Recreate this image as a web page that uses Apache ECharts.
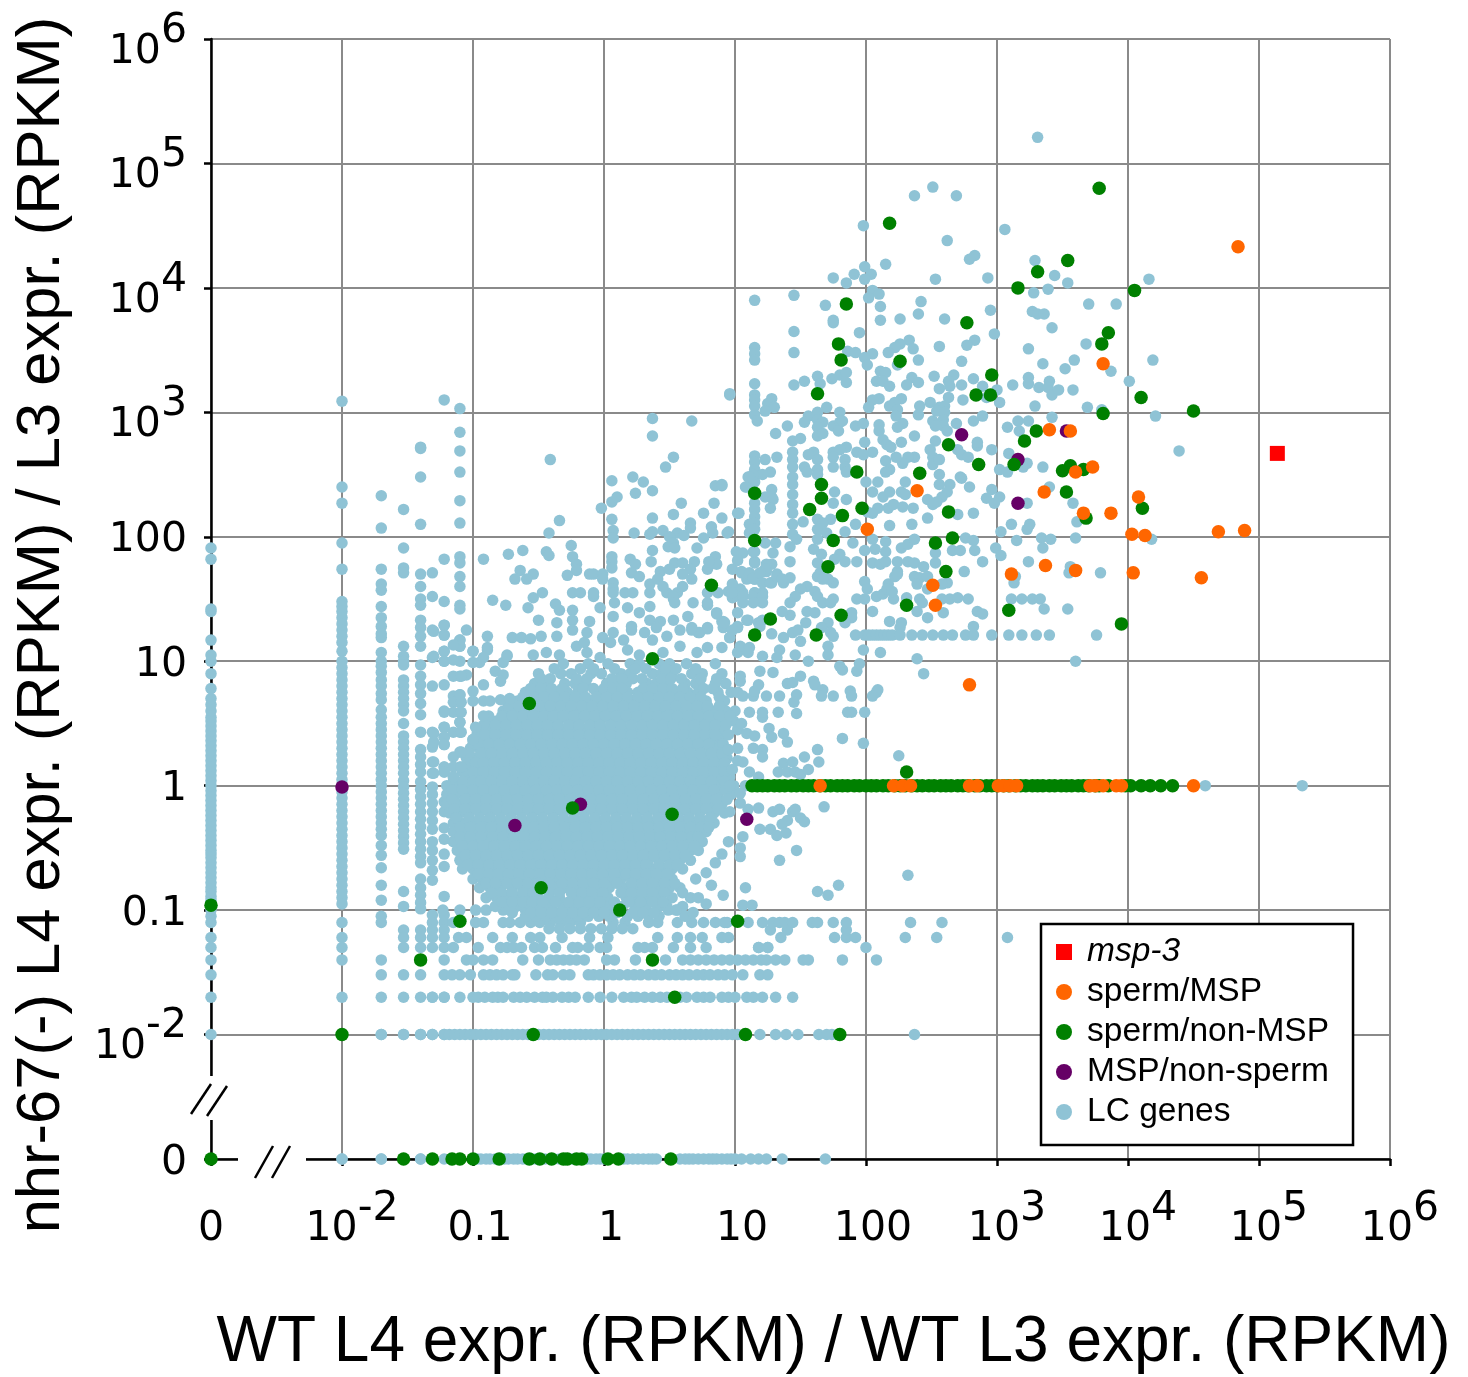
<!DOCTYPE html>
<html><head><meta charset="utf-8">
<style>html,body{margin:0;padding:0;background:#fff}#c{width:1468px;height:1377px}</style>
<script src="https://cdn.jsdelivr.net/npm/echarts@6/dist/echarts.min.js"></script>
</head><body><div id="c"></div>
<script>
// All values are log10(ratio). A log10 of -3 stands for the broken "0" position on each axis.
const xTitle = 'WT L4 expr. (RPKM) / WT L3 expr. (RPKM)';
const yTitle = 'nhr-67(-) L4 expr. (RPKM) / L3 expr. (RPKM)';
const tickExponents = [-3,-2,-1,0,1,2,3,4,5,6];

const msp3 = [[5.14,2.67]];

const spermMsp = [[4.84,4.33],[3.81,3.39],[3.40,2.86],[3.56,2.85],[3.73,2.56],[3.60,2.52],[3.36,2.36],[2.39,2.37],[3.66,2.19],[3.87,2.19],[4.08,2.32],[4.03,2.02],[4.13,2.01],[4.69,2.04],[4.89,2.05],[2.01,2.06],[3.37,1.77],[3.11,1.70],[3.60,1.73],[4.04,1.71],[4.56,1.67],[2.51,1.61],[2.53,1.45],[2.79,.81]];
const spermMspRow1 = [1.65,2.21,2.28,2.34,2.79,2.85,3.01,3.05,3.10,3.15,3.71,3.75,3.81,3.91,3.95,4.50];

const msgNonSperm = [[-2,-.01],[-.68,-.32],[-.18,-.15],[1.09,-.27],[2.73,2.82],[3.16,2.62],[3.16,2.27],[3.53,2.85]];

const spermOther = [[3.78,4.80],[2.18,4.52],[3.54,4.22],[3.31,4.13],[3.16,4.0],[4.05,3.98],[1.85,3.87],[2.77,3.72],[3.85,3.64],[3.80,3.55],[1.79,3.55],[1.81,3.42],[2.26,3.41],[2.96,3.30],[1.63,3.15],[2.84,3.14],[2.95,3.14],[4.10,3.12],[4.50,3.01],[3.81,2.99],[3.30,2.85],[3.21,2.77],[2.63,2.74],[3.13,2.58],[3.56,2.57],[3.50,2.53],[3.66,2.54],[1.93,2.52],[2.86,2.58],[2.41,2.51],[1.66,2.42],[1.15,2.35],[1.66,2.31],[3.53,2.36],[1.97,2.23],[2.63,2.20],[1.57,2.22],[1.82,2.17],[4.11,2.23],[3.68,2.15],[1.15,1.97],[1.75,1.97],[2.66,1.99],[2.53,1.95],[1.71,1.76],[2.61,1.72],[.82,1.61],[1.81,1.37],[2.31,1.45],[3.09,1.41],[1.27,1.34],[3.95,1.30],[1.15,1.21],[1.62,1.21],[.37,1.02],[-.57,.66],[-.24,-.18],[.52,-.23],[-.48,-.82],[.12,-1.0],[-1.1,-1.09],[1.02,-1.09],[-1.40,-1.40],[.37,-1.40],[.54,-1.70],[-2,-2],[-.54,-2],[1.08,-2],[1.80,-2],[2.31,.11],[-3,-.96],[-3,-3]];
const spermOtherRow0 = [-1.53,-1.31,-1.16,-1.10,-1,-.80,-.57,-.49,-.40,-.31,-.28,-.21,-.17,.03,.11,.51];
const spermOtherRow1 = [1.13,1.17,1.21,1.25,1.3,1.34,1.38,1.43,1.47,1.52,1.56,1.6,1.65,1.69,1.73,1.78,1.82,1.86,1.91,1.95,2.0,2.04,2.08,2.13,2.17,2.22,2.26,2.3,2.35,2.39,2.43,2.48,2.52,2.57,2.61,2.65,2.7,2.74,2.78,2.83,2.87,2.92,2.96,3.0,3.05,3.09,3.14,3.18,3.22,3.27,3.31,3.35,3.4,3.44,3.49,3.53,3.57,3.62,3.66,3.7,3.75,3.78,3.85,3.98,4.02,4.1,4.17,4.25,4.34];

// Columns of low-count genes: x fixed, y values listed.
const lcColumns = [
[-3,[-3,-2,-1.7,-1.52,-1.4,-1.3,-1.22,-1.1,-1.05,-1,-.96,-.92,-.89,-.85,-.82,-.78,-.74,-.7,-.66,-.62,-.58,-.55,-.52,-.48,-.44,-.4,-.36,-.32,-.28,-.24,-.2,-.16,-.12,-.08,-.04,0,.04,.08,.12,.16,.2,.24,.28,.32,.36,.4,.44,.48,.52,.55,.6,.65,.7,.78,.9,1.0,1.05,1.17,1.4,1.42,1.82,1.91]],
[-2,[3.09,2.40,2.27,1.95,1.74,1.48,1.44,1.4,1.35,1.3,1.25,1.2,1.15,1.08,1.0,.95,.9,.85,.8,.75,.7,.65,.6,.55,.5,.45,.4,.35,.3,.25,.2,.15,.1,.05,0,-.05,-.1,-.15,-.2,-.25,-.3,-.35,-.4,-.45,-.5,-.55,-.6,-.65,-.7,-.75,-.8,-.85,-.9,-.95,-1.1,-1.22,-1.3,-1.4,-1.7,-3]],
[-1.7,[2.33,2.07,1.74,1.62,1.57,1.44,1.35,1.28,1.22,1.19,1.07,1.0,.96,.91,.85,.8,.74,.69,.61,.55,.5,.45,.4,.35,.3,.25,.2,.15,.1,.05,0,-.05,-.1,-.15,-.2,-.25,-.3,-.35,-.4,-.48,-.56,-.66,-.8,-.92,-1.05,-1.1,-1.4,-1.52,-1.7,-2,-3]],
[-1.53,[2.22,1.91,1.75,1.71,1.12,1.04,1.0,.97,.85,.8,.75,.7,.65,.6,.5,.4,.35,.3,.25,.2,.15,.1,.04,-.01,-.06,-.11,-.16,-.21,-.26,-.31,-.36,-.41,-.46,-.51,-.85,-.97,-1.16,-1.22,-1.3,-1.52,-1.7,-2]],
[-1.4,[2.72,2.71,2.48,2.10,1.70,1.6,1.5,1.45,1.33,1.27,1.2,1.12,.97,.88,.81,.74,.66,.57,.43,.29,.23,.17,.11,.03,-.03,-.09,-.15,-.21,-.27,-.33,-.39,-.45,-.51,-.57,-.62,-.75,-.82,-.88,-.94,-.99,-1.16,-1.22,-1.3,-1.52,-1.7,-2,-3]],
[-1.31,[1.71,1.52,1.25,1.03,.8,.43,.31,.19,.1,-.01,-.07,-.14,-.21,-.28,-.35,-.45,-.52,-.6,-.68,-.76,-1.04,-1.1,-1.16,-1.22,-1.3,-1.7,-2]],
[-1.22,[3.10,1.82,1.48,1.29,1.21,1.08,1.0,.81,.6,.47,.39,.33,.15,.11,-.13,-.21,-.34,-.43,-.55,-.65,-.89,-1.04,-1.1,-1.16,-1.22,-1.3,-1.7,-2]],
[-1.1,[3.03,2.84,2.69,2.52,2.29,2.11,1.84,1.79,1.68,1.6,1.45,1.42,1.17,1.12,1.0,.88,.73,.67,.59,.51,.43,.27,.15]],
[1.15,[3.90,3.52,3.47,3.42,3.23,3.14,3.10,3.05,2.98,2.65,2.60,2.54,2.48,2.44,2.27,2.22,2.16,2.11,2.06,1.88,1.80,1.66,1.55]],
[.06,[2.45,2.28,2.14,1.84,1.80,1.75]],
[1.44,[2.68,2.62,2.56,2.48,2.42,2.34,2.26,2.19,2.10,2.02]],
[1.63,[3.29,2.62,2.54,2.50,2.14,2.06,1.98,1.79,1.68]]
];

// Rows of low-count genes: y fixed, x values listed.
const lcRows = [
[-3,[-2,-1.70,-1.40,-1.22,-.97,-.94,-.9,-.87,-.83,-.8,-.76,-.73,-.69,-.66,-.62,-.59,-.55,-.52,-.48,-.45,-.41,-.38,-.34,-.31,-.27,-.24,-.2,-.17,-.13,-.1,-.06,-.03,0,.15,.18,.22,.26,.3,.34,.37,.4,.58,.62,.65,.68,.72,.76,.8,.83,.86,.9,.94,.97,1.0,1.05,1.12,1.18,1.24,1.36,1.69]],
[-2,[-1.70,-1.53,-1.40,-1.31,-1.22,-1.18,-1.14,-1.1,-1.06,-1.02,-.98,-.94,-.9,-.86,-.82,-.78,-.74,-.70,-.66,-.62,-.58,-.5,-.46,-.42,-.38,-.34,-.30,-.26,-.22,-.18,-.14,-.1,-.06,-.02,.02,.06,.10,.14,.18,.22,.26,.3,.34,.38,.42,.46,.5,.54,.58,.62,.66,.7,.74,.78,.82,.86,.9,.94,.98,1.02,1.19,1.31,1.39,1.48,1.64,1.70,1.74,2.37]],
[-1.7,[-1.31,-1.22,-1.10,-1,-.96,-.91,-.85,-.81,-.77,-.69,-.64,-.59,-.53,-.47,-.44,-.39,-.32,-.27,-.22,-.12,-.03,.06,.15,.21,.25,.31,.37,.43,.48,.58,.63,.71,.76,.81,.90,.95,1.0,1.09,1.14,1.21,1.31,1.44]],
[-1.52,[-1.22,-1.16,-1.10,-1.02,-.92,-.87,-.82,-.77,-.70,-.68,-.52,-.43,-.39,-.31,-.26,-.12,-.08,-.03,.02,.07,.12,.18,.23,.28,.34,.39,.44,.50,.55,.60,.65,.71,.76,.81,.87,.92,.98,1.06,1.19,1.25]],
[-1.4,[-1.22,-1.05,-1,-.92,-.85,-.62,-.50,-.41,-.36,-.31,-.26,-.21,-.15,.02,.08,.24,.47,.60,.66,.72,.78,.84,.90,.96,1.02,1.08,1.14,1.20,1.24,1.31,1.38,1.52,1.56,1.82,2.08]],
[-1.3,[-1.15,-.96,-.79,-.74,-.69,-.63,-.53,-.47,-.37,-.24,-.20,-.12,-.03,.02,.26,.31,.37,.53,.66,.78,1.18,1.25,2.0]],
[-1.22,[-1.11,-1.05,-.85,-.70,-.56,-.49,-.32,-.11,.03,.41,.56,.66,.75,.90,.95,1.35,1.76,1.85,1.92,2.30,2.54,3.08]],
[-1.16,[1.27,1.40,1.85]],
[-1.1,[-1.15,-.98,-.92,-.77,-.72,-.64,-.56,-.49,-.41,-.33,-.26,-.18,.07,.16,.34,.41,.56,.67,.76,.85,.94,.92,1.10,1.21,1.29,1.34,1.38,1.44,1.59,1.63,1.75,1.85,2.34,2.58]],
[-1.0,[-1.23,-1.1,-.98,-.9,-.77,-.6,-.53,-.46,-.39,-.31,-.24,-.16,-.09,-.01,.05,.11,.27,.32,.49,.56]],
[0,[1.08,4.59,5.33]],
[1.21,[1.92,1.99,2.02,2.05,2.08,2.11,2.14,2.17,2.2,2.26,2.35,2.43,2.51,2.59,2.66,2.76,2.82,2.96,3.09,3.19,3.30,3.40,3.76]],
// Dense central cloud
[.98,[-.31,-.12,.03,.2,.27,.42,.5,.63,.85]],
[.90,[-.5,-.33,-.25,-.1,-.02,.13,.2,.37,.44,.52,.67,.75,.9]],
[.82,[-.53,-.45,-.3,-.22,-.14,.02,.1,.17,.33,.4,.47,.62,.7,.85,.93]],
[.75,[-.6,-.52,-.44,-.36,-.28,-.2,-.05,.03,.11,.18,.26,.33,.41,.49,.56,.64,.72,.87,.97]],
[.68,[-.66,-.58,-.5,-.42,-.34,-.26,-.18,-.1,-.02,.06,.14,.22,.3,.38,.46,.54,.62,.7,.78,.92]],
[.60,[-.77,-.69,-.61,-.53,-.45,-.37,-.29,-.21,-.13,-.05,.03,.11,.19,.27,.35,.43,.51,.59,.67,.75,.83,.93,1.0]],
[.52,[-.9,-.82,-.74,-.66,-.58,-.5,-.43,-.35,-.27,-.19,-.11,-.03,.05,.13,.21,.29,.37,.44,.52,.6,.68,.76,.84,.92,.99]],
[.45,[-.95,-.87,-.79,-.71,-.63,-.55,-.47,-.39,-.31,-.23,-.15,-.07,.01,.09,.17,.25,.33,.41,.49,.57,.65,.73,.81,.89,1.02]],
[.37,[-1.0,-.92,-.84,-.76,-.68,-.6,-.52,-.44,-.36,-.28,-.2,-.12,-.04,.04,.12,.2,.28,.36,.44,.52,.6,.68,.76,.84,.9]],
[.30,[-1.02,-.95,-.87,-.79,-.71,-.63,-.55,-.47,-.39,-.31,-.23,-.15,-.07,.01,.09,.17,.25,.33,.41,.49,.57,.65,.73,.81,.87]],
[.22,[-1.05,-.98,-.9,-.82,-.74,-.66,-.58,-.5,-.42,-.34,-.26,-.18,-.1,-.02,.06,.14,.22,.3,.38,.46,.54,.62,.7,.78,.86,.94]],
[.15,[-1.05,-.96,-.88,-.8,-.72,-.64,-.56,-.48,-.4,-.32,-.24,-.16,-.08,0,.08,.16,.24,.32,.4,.48,.56,.64,.72,.8,.88]],
[.07,[-1.15,-1.05,-.98,-.9,-.82,-.74,-.66,-.58,-.5,-.42,-.34,-.26,-.18,-.1,-.02,.06,.14,.22,.3,.38,.46,.54,.62,.7,.78,.86,.96]],
[0,[-1.2,-1.12,-1.04,-.96,-.88,-.8,-.72,-.64,-.56,-.48,-.4,-.32,-.24,-.16,-.08,0,.08,.16,.24,.32,.4,.48,.56,.64,.72,.8,.88,.99]],
[-.07,[-1.2,-1.13,-1.05,-.97,-.89,-.81,-.73,-.65,-.57,-.49,-.41,-.33,-.25,-.17,-.09,-.01,.07,.15,.23,.31,.39,.47,.55,.63,.71,.79,.87,.97]],
[-.15,[-1.2,-1.1,-1.02,-.94,-.86,-.78,-.7,-.62,-.54,-.46,-.38,-.3,-.22,-.14,-.06,.02,.1,.18,.26,.34,.42,.5,.58,.66,.74,.82,.9]],
[-.22,[-1.18,-1.1,-1.03,-.95,-.87,-.79,-.71,-.63,-.55,-.47,-.39,-.31,-.23,-.15,-.07,.01,.09,.17,.25,.33,.41,.49,.57,.65,.73,.84]],
[-.30,[-1.15,-1.07,-.99,-.91,-.83,-.75,-.67,-.59,-.51,-.43,-.35,-.27,-.19,-.11,-.03,.05,.13,.21,.29,.37,.45,.53,.61,.69,.77,.84]],
[-.37,[-1.15,-1.06,-.98,-.9,-.82,-.74,-.66,-.58,-.5,-.42,-.34,-.26,-.18,-.1,-.02,.06,.14,.22,.3,.38,.46,.54,.62,.7,.78]],
[-.45,[-1.15,-1.05,-.97,-.89,-.81,-.73,-.65,-.57,-.49,-.41,-.33,-.25,-.17,-.09,-.01,.07,.15,.23,.31,.39,.47,.55,.63,.75]],
[-.52,[-1.12,-1.04,-.96,-.88,-.8,-.72,-.64,-.56,-.48,-.4,-.32,-.24,-.16,-.08,0,.08,.16,.24,.32,.4,.48,.56,.66,.72]],
[-.60,[-1.1,-1.02,-.94,-.86,-.78,-.7,-.62,-.54,-.46,-.38,-.3,-.22,-.14,-.06,.02,.1,.18,.26,.34,.42,.5,.58,.66]],
[-.67,[-1.08,-1,-.92,-.84,-.76,-.68,-.6,-.52,-.44,-.36,-.28,-.2,-.12,-.04,.04,.12,.2,.28,.38,.46,.52,.6]],
[-.75,[-1.0,-.93,-.85,-.77,-.69,-.61,-.53,-.45,-.37,-.29,-.21,-.13,-.05,.03,.13,.21,.27,.36,.44,.52]],
[-.82,[-.95,-.87,-.79,-.7,-.62,-.54,-.46,-.38,-.28,-.2,-.12,-.04,.04,.17,.25,.33,.41,.5,.58]],
[-.90,[-.9,-.82,-.74,-.66,-.58,-.5,-.42,-.34,-.22,-.14,-.06,.03,.17,.25,.33,.42,.52,.66]],
[-.97,[-.83,-.75,-.67,-.59,-.51,-.43,-.31,-.23,-.15,-.07,.01,.14,.24,.32,.42,.48,.6]],
[-1.05,[-.6,-.52,-.44,-.36,-.28,-.2,-.12,-.04,.04,.18,.26,.34,.42]],
[-1.15,[-.42,-.34,-.26,-.18,-.1,-.02,.06,.14,.22]],
// Second layer of the dense cloud, between the rows above
[.94,[-.38,-.18,-.08,.08,.24,.32,.47,.55,.7]],
[.86,[-.48,-.41,-.21,-.13,.06,.14,.22,.29,.44,.51,.59,.74,.86]],
[.78,[-.56,-.48,-.4,-.32,-.16,-.08,0,.07,.14,.3,.37,.45,.52,.6,.76,.83]],
[.71,[-.62,-.54,-.46,-.38,-.3,-.22,-.14,-.06,.02,.1,.18,.26,.34,.42,.5,.58,.66,.74,.88]],
[.64,[-.73,-.65,-.57,-.49,-.41,-.33,-.25,-.17,-.09,-.01,.07,.15,.23,.31,.39,.47,.55,.63,.71,.79,.88]],
[.56,[-.88,-.78,-.7,-.62,-.54,-.46,-.39,-.31,-.23,-.15,-.07,.01,.09,.17,.25,.33,.41,.48,.56,.64,.72,.8,.88,.96]],
[.485,[-.92,-.83,-.75,-.67,-.59,-.51,-.43,-.35,-.27,-.19,-.11,-.03,.05,.13,.21,.29,.37,.45,.53,.61,.69,.77,.85,.93]],
[.41,[-.97,-.91,-.83,-.75,-.67,-.59,-.51,-.43,-.35,-.27,-.19,-.11,-.03,.05,.13,.21,.29,.37,.45,.53,.61,.69,.77,.85,.95]],
[.335,[-1.0,-.96,-.88,-.8,-.72,-.64,-.56,-.48,-.4,-.32,-.24,-.16,-.08,0,.08,.16,.24,.32,.4,.48,.56,.64,.72,.8,.91]],
[.26,[-1.03,-.94,-.86,-.78,-.7,-.62,-.54,-.46,-.38,-.3,-.22,-.14,-.06,.02,.1,.18,.26,.34,.42,.5,.58,.66,.74,.82,.9]],
[.185,[-1.03,-.98,-.92,-.84,-.76,-.68,-.6,-.52,-.44,-.36,-.28,-.2,-.12,-.04,.04,.12,.2,.28,.36,.44,.52,.6,.68,.76,.84,.92]],
[.11,[-1.08,-1.0,-.92,-.84,-.76,-.68,-.6,-.52,-.44,-.36,-.28,-.2,-.12,-.04,.04,.12,.2,.28,.36,.44,.52,.6,.68,.76,.84,.92]],
[.035,[-1.15,-1.08,-1.0,-.94,-.86,-.78,-.7,-.62,-.54,-.46,-.38,-.3,-.22,-.14,-.06,.02,.1,.18,.26,.34,.42,.5,.58,.66,.74,.82,.92]],
[-.035,[-1.16,-1.08,-1.0,-.92,-.84,-.76,-.68,-.6,-.52,-.44,-.36,-.28,-.2,-.12,-.04,.04,.12,.2,.28,.36,.44,.52,.6,.68,.76,.84,.93]],
[-.11,[-1.16,-1.06,-.98,-.9,-.82,-.74,-.66,-.58,-.5,-.42,-.34,-.26,-.18,-.1,-.02,.06,.14,.22,.3,.38,.46,.54,.62,.7,.78,.86,.94]],
[-.185,[-1.14,-1.06,-.98,-.9,-.82,-.74,-.66,-.58,-.5,-.42,-.34,-.26,-.18,-.1,-.02,.06,.14,.22,.3,.38,.46,.54,.62,.7,.78,.87]],
[-.26,[-1.13,-1.03,-.95,-.87,-.79,-.71,-.63,-.55,-.47,-.39,-.31,-.23,-.15,-.07,.01,.09,.17,.25,.33,.41,.49,.57,.65,.73,.81]],
[-.335,[-1.1,-1.02,-.94,-.86,-.78,-.7,-.62,-.54,-.46,-.38,-.3,-.22,-.14,-.06,.02,.1,.18,.26,.34,.42,.5,.58,.66,.74,.8]],
[-.41,[-1.1,-1.02,-.94,-.85,-.77,-.69,-.61,-.53,-.45,-.37,-.29,-.21,-.13,-.05,.03,.11,.19,.27,.35,.43,.51,.59,.67,.72]],
[-.485,[-1.08,-1.0,-.92,-.84,-.76,-.68,-.6,-.52,-.44,-.36,-.28,-.2,-.12,-.04,.04,.12,.2,.28,.36,.44,.52,.6,.69]],
[-.56,[-1.06,-.98,-.9,-.82,-.74,-.66,-.58,-.5,-.42,-.34,-.26,-.18,-.1,-.02,.06,.14,.22,.3,.38,.46,.54,.62]],
[-.635,[-1.04,-.96,-.88,-.8,-.72,-.64,-.56,-.48,-.4,-.32,-.24,-.16,-.08,0,.08,.16,.24,.32,.42,.5,.56]],
[-.71,[-.96,-.88,-.81,-.73,-.65,-.57,-.49,-.41,-.33,-.25,-.17,-.09,-.01,.08,.17,.24,.32,.4,.48]],
[-.785,[-.9,-.83,-.74,-.66,-.58,-.5,-.42,-.32,-.24,-.16,-.08,0,.1,.21,.29,.37,.46,.54]],
[-.86,[-.86,-.78,-.7,-.62,-.54,-.42,-.34,-.25,-.17,-.09,-.01,.13,.21,.29,.37,.46,.6]],
[-.935,[-.78,-.7,-.62,-.55,-.47,-.37,-.27,-.19,-.11,-.03,.08,.19,.28,.37,.45]],
[-1.02,[-.7,-.56,-.48,-.4,-.32,-.24,-.16,-.08,0,.1,.22,.3,.38]]
];

// Individually read low-count genes (x, y).
const lcScatterA = [[3.31,5.21],[2.51,4.81],[2.37,4.74],[2.69,4.74],[1.98,4.50],[3.06,4.47],[2.62,4.38],[2.83,4.26],[2.79,4.23],[3.29,4.22],[2.15,4.19],[1.99,4.17],[1.91,4.11],[2.04,4.11],[1.75,4.08],[1.99,4.07],[2.53,4.07],[2.93,4.08],[3.44,4.10],[1.85,4.04],[3.54,4.04],[4.16,4.07],[3.39,3.99],[2.05,3.98],[2.10,3.95],[3.28,3.96],[1.45,3.94],[2.02,3.92],[1.69,3.86],[2.42,3.89],[2.11,3.85],[3.70,3.87],[3.91,3.87],[2.95,3.82],[3.27,3.81],[3.31,3.79],[3.36,3.79],[2.40,3.79],[2.26,3.75],[2.11,3.74],[1.75,3.74],[1.75,3.72],[2.60,3.75],[3.42,3.68],[1.45,3.65],[1.95,3.64],[2.98,3.63],[2.83,3.58],[2.77,3.54],[2.33,3.58],[2.36,3.51],[2.26,3.55],[2.22,3.52],[2.17,3.48],[2.56,3.53],[1.45,3.48],[3.24,3.51],[3.68,3.55],[1.86,3.49],[1.92,3.48],[2.05,3.47],[1.99,3.44],[2.01,3.38],[2.40,3.42],[2.73,3.41],[3.35,3.39],[3.59,3.42],[3.52,3.35],[4.19,3.42],[3.87,3.33],[2.24,3.38],[1.65,3.23],[2.11,3.33],[2.15,3.32],[2.08,3.25],[2.13,3.25],[2.18,3.21],[1.74,3.27],[1.80,3.30],[1.85,3.32],[1.85,3.24],[1.53,3.25],[1.45,3.22],[.96,3.14],[2.35,3.28],[2.31,3.22],[2.40,3.24],[2.52,3.29],[2.67,3.30],[2.63,3.25],[2.64,3.21],[2.82,3.27],[2.73,3.22],[2.89,3.21],[2.56,3.19],[3.12,3.22],[3.24,3.28],[3.24,3.23],[3.32,3.20],[3.40,3.25],[3.39,3.20],[3.42,3.14],[3.47,3.18],[3.58,3.18],[4.01,3.25],[3.0,3.18],[2.92,3.12],[3.02,3.08],[2.74,3.10],[2.63,3.12],[2.49,3.08],[3.29,3.05],[3.69,3.04],[4.21,2.97],[3.80,3.02],[1.17,2.93],[1.28,3.11],[1.25,3.07],[1.30,3.04],[1.23,3.01],[2.27,3.11],[2.22,3.08],[2.18,3.05],[2.24,3.02],[2.23,2.97],[2.10,3.11],[2.05,3.10],[2.02,3.04],[2.41,3.05],[2.40,2.98],[2.56,3.04],[2.60,3.05],[2.54,3.01],[2.60,3.0],[2.59,2.94],[2.51,2.93],[2.59,2.89],[2.53,2.89],[2.62,2.85],[2.69,2.91],[2.82,2.93],[2.89,2.97],[3.16,2.93],[3.24,2.93],[3.42,2.96],[3.08,2.88],[3.17,2.85],[1.63,3.0],[1.56,2.97],[1.53,2.92],[1.70,3.04],[1.80,3.0],[1.63,2.94],[1.67,2.92],[1.63,2.88],[1.75,2.89],[1.80,2.92],[1.82,2.93],[1.79,2.85],[1.63,2.81],[1.67,2.83],[1.40,2.89],[1.31,2.83],[1.44,2.77],[1.50,2.79],[1.92,2.89],[1.98,2.91],[2.10,2.90],[2.10,2.85],[2.13,2.78],[2.16,2.74],[2.19,2.72],[2.28,2.91],[2.24,2.88],[2.37,2.81],[1.99,2.76],[2.05,2.68],[1.93,2.68],[1.98,2.66],[2.27,2.76],[1.75,2.68],[1.85,2.72],[1.80,2.70],[2.53,2.77],[2.49,2.70],[2.51,2.64],[2.51,2.58],[2.56,2.62],[2.70,2.70],[2.73,2.66],[2.78,2.64],[2.85,2.73],[2.85,2.76],[2.96,2.70],[3.09,2.67],[3.23,2.59],[3.20,2.56],[3.35,2.56],[3.02,2.54],[3.08,2.52],[4.39,2.69],[1.23,2.62],[1.32,2.64],[1.53,2.56],[1.55,2.52],[1.60,2.68],[1.56,2.66],[1.75,2.64],[1.75,2.56],[1.84,2.62],[1.84,2.56],[1.85,2.52],[2.15,2.61],[2.37,2.64],[2.32,2.64],[2.28,2.59],[2.23,2.64],[2.18,2.54],[2.15,2.52],[2.56,2.50],[2.72,2.48],[1.27,2.52],[1.21,2.50],[1.14,2.50],[1.10,2.48]];

const lcScatterB = [[.90,2.42],[1.09,2.40],[1.28,2.38],[1.28,2.32],[1.23,2.32],[1.29,2.30],[1.27,2.23],[1.76,2.36],[1.85,2.30],[1.75,2.27],[1.73,2.14],[1.67,2.11],[1.65,2.06],[1.70,2.03],[2.0,2.44],[2.09,2.44],[2.05,2.36],[2.13,2.32],[2.18,2.36],[2.27,2.36],[2.30,2.34],[2.30,2.44],[2.01,2.20],[2.09,2.23],[2.17,2.23],[2.21,2.26],[2.28,2.24],[2.36,2.23],[2.05,2.19],[1.92,2.10],[2.18,2.09],[2.35,2.10],[2.47,2.15],[2.56,2.42],[2.64,2.42],[2.62,2.36],[2.58,2.32],[2.54,2.28],[2.47,2.30],[2.51,2.26],[2.73,2.47],[2.79,2.40],[2.96,2.38],[2.92,2.31],[3.02,2.32],[2.98,2.27],[2.82,2.19],[2.70,2.18],[3.11,2.10],[3.03,2.04],[3.25,2.10],[3.23,2.06],[3.40,2.40],[3.23,2.27],[3.58,2.27],[3.61,2.12],[4.18,1.98],[3.15,1.97],[3.34,1.99],[3.41,1.98],[3.35,1.91],[3.60,1.99],[2.99,1.91],[3.03,1.85],[2.76,1.99],[2.82,1.97],[2.66,1.89],[2.72,1.89],[2.83,1.89],[2.53,1.87],[2.53,1.79],[2.89,1.80],[2.75,1.72],[3.24,1.80],[3.56,1.76],[3.55,1.71],[3.79,1.71],[3.14,1.68],[3.13,1.63],[3.11,1.50],[3.19,1.50],[3.27,1.50],[3.33,1.50],[3.36,1.42],[3.54,1.42],[3.60,1.0],[1.98,1.09],[2.11,1.07],[2.39,1.02],[2.44,.90],[1.99,1.64],[2.01,1.58],[1.93,1.50],[1.99,1.50],[2.05,1.40],[2.08,1.52],[2.13,1.54],[2.17,1.62],[2.21,1.50],[2.16,1.58],[2.20,1.56],[2.31,1.51],[2.41,1.50],[2.39,1.40],[2.47,1.35],[2.43,1.47],[2.58,1.50],[2.64,1.50],[2.70,1.51],[2.78,1.50],[2.59,1.39],[2.47,1.58],[2.62,1.63],[2.58,1.62],[2.85,1.40],[2.89,1.38],[2.82,1.28],[2.18,1.32],[2.27,1.31],[2.26,1.27],[2.37,1.68],[2.41,1.67],[2.47,1.68],[2.39,1.62],[2.24,1.72],[2.22,1.68],[2.24,1.70],[2.05,1.79],[2.11,1.78],[2.15,1.80],[2.24,1.80],[2.32,1.80],[2.37,1.79],[2.44,1.76],[2.07,1.90],[2.15,1.96],[2.15,1.88],[2.27,1.91],[2.32,1.94],[2.37,1.98],[1.99,1.89],[2.05,1.98],[1.84,2.04],[1.90,1.95],[1.84,1.80],[1.93,1.80],[1.80,1.86],[1.76,1.82],[1.70,1.75],[1.66,1.86],[1.65,1.71],[1.75,1.63],[1.71,1.66],[1.67,1.66],[1.55,1.60],[1.50,1.58],[1.46,1.52],[1.42,1.47],[1.61,1.56],[1.63,1.52],[1.67,1.47],[1.73,1.47],[1.75,1.50],[1.55,1.40],[1.61,1.39],[1.42,1.37],[1.36,1.40],[1.89,1.39],[1.89,1.35],[1.84,1.31],[1.71,1.31],[1.66,1.27],[1.73,1.23],[1.75,1.20],[1.37,1.19],[1.44,1.23],[1.48,1.25],[1.54,1.31],[1.50,1.16],[1.28,1.22],[1.71,1.12],[1.71,1.05],[1.34,1.09],[1.32,1.03],[1.46,1.05],[1.56,1.0],[1.21,1.04]];

const lcScatterC = [[1.19,.92],[1.29,.91],[1.04,.88],[1.04,.84],[1.40,.82],[1.44,.83],[1.50,.88],[1.60,.84],[1.61,.81],[1.67,.77],[1.66,.72],[1.75,.72],[1.88,.76],[1.89,.72],[2.09,.77],[2.08,.75],[2.05,.72],[1.80,.96],[1.82,.93],[1.93,.92],[1.95,.98],[1.99,.59],[1.89,.59],[1.86,.59],[1.02,.75],[1.06,.72],[1.14,.72],[1.15,.76],[1.24,.72],[1.18,.81],[1.34,.72],[1.47,.73],[1.45,.67],[1.47,.58],[1.33,.59],[1.21,.55],[1.21,.59],[1.11,.59],[1.05,.50],[1.09,.42],[1.15,.40],[1.26,.46],[1.28,.39],[1.37,.42],[1.40,.35],[1.14,.30],[1.21,.29],[1.21,.23],[1.02,.30],[.95,.29],[1.63,.29],[1.53,.23],[1.64,.19],[1.82,.38],[1.98,.34],[1.37,.18],[1.44,.19],[1.33,.11],[1.40,.11],[1.46,.11],[1.50,.09],[1.56,.13],[1.11,.11],[1.18,.07],[1.02,.20],[1.06,.19],[.98,.13],[2.25,.24],[1.68,-.17],[1.10,-.19],[1.18,-.18],[1.29,-.21],[1.34,-.19],[1.44,-.21],[1.46,-.19],[1.50,-.26],[1.53,-.29],[1.40,-.28],[1.36,-.31],[1.19,-.35],[1.27,-.35],[1.32,-.40],[1.39,-.38],[1.47,-.52],[1.34,-.60],[1.06,-.41],[1.04,-.50],[1.04,-.57],[.92,-.22],[.96,-.21],[1.04,-.14],[1.04,-.06],[2.32,-.72],[1.08,-.82],[1.79,-.80],[1.63,-.85],[1.71,-.88],[1.06,-.96],[1.13,-.96],[.91,-.88],[1.18,-1.30],[1.25,-1.30],[.96,.0],[.72,-.9],[.78,-.95],[.7,-.75],[.78,-.7],[.85,-.62],[.9,-.55],[.95,-.45],[.82,-.8],[.62,-1.05],[.68,-1.02],[.55,-1.0]];

const lcScatterD = [[-1.22,1.29],[-1.22,1.21],[-1.30,1.24],[-1.05,1.25],[-1.10,1.17],[-1.10,1.12],[-1.15,1.13],[-1.22,1.08],[-1.22,1.0],[-1.30,1.04],[-1.15,1.01],[-1,1.08],[-1,.99],[-.95,.99],[-.89,1.09],[-.77,.99],[-.74,1.05],[-.83,.92],[-.77,.89],[-.79,.84],[-.92,.81],[-1,.76],[-1,.68],[-.92,.68],[-.87,.68],[-.79,.69],[-.72,.70],[-.92,.56],[-.98,.47],[-1,.37],[-1.05,.89],[-1.15,.88],[-1.09,.88],[-1.15,.72],[-1.10,.73],[-1.15,.67],[-1.09,.67],[-1.15,.59],[-1.09,.59],[-1.22,.59],[-1.10,.51],[-1.22,.47],[-1.22,.39],[-1.15,.43],[-1.09,.43],[-1.30,.42],[-1.30,.35],[-1.22,.33],[-1.15,.23],[-1.09,.27],[-1.15,.15],[-1.22,.15],[-1.09,.15],[-1.22,.11],[-1.15,.07],[-1.30,.19],[-1.30,.10],[-.92,1.82],[-.73,1.86],[-.62,1.89],[-.44,1.88],[-.42,1.85],[-.41,2.62],[-.34,2.13],[-.42,2.03],[-.25,1.93],[-.24,1.84],[-.21,1.78],[-.21,1.73],[-.64,1.73],[-.54,1.70],[-.68,1.66],[-.59,1.66],[-.28,1.69],[-.11,1.70],[-.08,1.70],[-.01,1.70],[-.01,1.66],[-.02,2.23],[.10,2.32],[.07,2.05],[.07,1.99],[.22,2.48],[.30,2.44],[.37,2.37],[.24,2.35],[.37,2.95],[.37,2.81],[.67,2.93],[.53,2.64],[.47,2.56],[.96,3.15],[.85,2.41],[.90,2.41],[.59,2.27],[.84,2.27],[1.08,2.40],[.37,2.15],[.53,2.18],[.76,2.19],[.66,2.11],[.90,2.15],[1.03,2.19],[.23,2.03],[.35,2.02],[.37,2.04],[.45,2.05],[.56,2.03],[.50,2.0],[.61,2.01],[.66,2.07],[.82,2.08],[.83,2.03],[.94,2.03],[.76,1.99],[.53,1.95],[.49,1.92],[.54,1.91],[.71,1.91],[.37,1.89],[.36,1.80],[.43,1.72],[.20,1.82],[.24,1.78],[.21,1.71],[.27,1.68],[.54,1.79],[.60,1.79],[.50,1.74],[.69,1.80],[.66,1.74],[.60,1.70],[.79,1.74],[.85,1.84],[.86,1.78],[.80,1.80],[.98,1.74],[1.01,1.88],[1.06,1.87],[1.02,1.81],[1.05,1.72],[1.11,1.71],[1.11,2.48],[1.11,2.10],[1.11,2.03],[.07,1.63],[.07,1.58],[-.85,1.49],[-.75,1.45],[-.58,1.43],[-.54,1.51],[-.37,1.46],[-.34,1.41],[-.24,1.41],[-.08,1.52],[-.03,1.43],[.08,1.47],[.18,1.43],[.35,1.44],[.53,1.50],[.68,1.47],[.79,1.45],[.86,1.39],[1.0,1.52],[-.47,1.55],[-.24,1.55],[-.18,1.55],[-.08,1.55],[.07,1.55],[.16,1.55],[.22,1.55],[.35,1.55],[.48,1.55],[.56,1.55],[.79,1.55],[.87,1.55],[1.0,1.55],[1.06,1.55],[-.50,1.33],[-.36,1.31],[-.24,1.33],[-.11,1.32],[.07,1.36],[.21,1.28],[.27,1.39],[.35,1.33],[.43,1.32],[.53,1.33],[.64,1.36],[.91,1.32],[1.02,1.28],[1.10,1.33],[-.70,1.19],[-.63,1.19],[-.56,1.18],[-.48,1.20],[-.36,1.20],[-.24,1.25],[-.13,1.23],[-.01,1.19],[.07,1.23],[.15,1.17],[.21,1.25],[.31,1.23],[.40,1.27],[.48,1.20],[.58,1.25],[.67,1.25],[.73,1.23],[.79,1.27],[.91,1.27],[.96,1.19],[1.02,1.27],[-.89,1.20],[-.89,1.11],[-1,1.08],[-.92,1.03],[-.74,1.04],[-.54,1.05],[-.44,1.07],[-.34,1.05],[-.21,1.12],[-.15,1.15],[-.13,1.07],[-.03,1.03],[.05,1.15],[.18,1.09],[.27,1.05],[.37,1.17],[.45,1.07],[.58,1.12],[.71,1.07],[.79,1.11],[.90,1.11],[1.02,1.07]];

const lcScatterE = [[.67,1.66],[.60,1.60],[.35,1.62],[.41,1.66],[.45,1.60],[.53,1.52],[.54,1.47],[.79,1.47],[.86,1.38],[.90,1.32],[.79,1.26],[.72,1.23],[.67,1.27],[.95,1.56],[.98,1.51],[1.04,1.58],[1.09,1.66],[1.15,1.66],[1.21,1.55],[1.15,1.55],[1.28,1.63],[1.32,1.70],[1.37,1.63],[1.24,1.72],[1.15,1.79],[1.28,1.78],[1.29,1.87],[1.23,1.95],[1.31,1.95],[1.14,2.06],[1.47,1.98],[1.52,2.12],[1.42,1.92],[1.42,1.80],[1.42,1.67],[1.60,1.90],[.95,2.04],[1.02,2.19],[1.14,1.88],[1.24,1.78],[1.23,1.74],[1.05,1.71],[1.11,1.70],[1.14,1.67],[1.19,1.71],[1.21,1.63],[1.27,1.63],[1.32,1.68],[1.36,1.66],[.98,1.62],[.98,1.55],[1.06,1.52],[1.14,1.52],[1.21,1.52],[1.21,1.47],[1.14,1.47],[1.06,1.47],[1.02,1.39],[1.09,1.33],[1.18,1.31],[1.21,1.33],[.92,1.31],[.98,1.25],[.96,1.19],[1.04,1.12],[1.11,1.11],[1.10,1.07],[1.19,1.28]];

const pairsFromColumns = c => c.flatMap(([x, ys]) => ys.map(y => [x, y]));
const pairsFromRows = r => r.flatMap(([y, xs]) => xs.map(x => [x, y]));
const fromLog = p => p.map(([x, y]) => [Math.pow(10, x), Math.pow(10, y)]);

const lcAll = fromLog([...pairsFromColumns(lcColumns), ...pairsFromRows(lcRows), ...lcScatterA, ...lcScatterB, ...lcScatterC, ...lcScatterD, ...lcScatterE]);
const msgAll = fromLog(msgNonSperm);
const greenAll = fromLog([...spermOther, ...spermOtherRow0.map(x => [x, -3]), ...spermOtherRow1.map(x => [x, 0])]);
const orangeAll = fromLog([...spermMsp, ...spermMspRow1.map(x => [x, 0])]);
const redAll = fromLog(msp3);

const NUM = 'DejaVu Sans';
const SANS = 'Liberation Sans';
function xLabel(v) {
  const e = Math.round(Math.log10(v));
  if (e === -3) return '{p|0}';
  if (e === -2) return '{ex|10}{s|-2}';
  if (e === -1) return '{q|0.1}';
  if (e === 0) return '{q|1}';
  if (e === 1) return '{q|10}';
  if (e === 2) return '{q|100}';
  return '{ex|10}{s|' + e + '}';
}
function yLabel(v) {
  const e = Math.round(Math.log10(v));
  if (e === -3) return '{py|0}';
  if (e === -2) return '{ey|10}{t|-2}';
  if (e === -1) return '{py|0.1}';
  if (e === 0) return '{py|1}';
  if (e === 1) return '{py|10}';
  if (e === 2) return '{py|100}';
  return '{ey|10}{t|' + e + '}';
}
const richBase = {fontFamily: NUM, fontSize: 41, color: '#000'};
const lineSeg = (x1, y1, x2, y2) => ({type: 'line', shape: {x1, y1, x2, y2}, style: {stroke: '#000', lineWidth: 2.5}, z: 3});
const cover = (x, y, width, height) => ({type: 'rect', shape: {x, y, width, height}, style: {fill: '#fff'}, z: 3});
const dots = (name, data, color, size, symbol, z) => ({
  type: 'scatter', name, data, symbol: symbol || 'circle', symbolSize: size, clip: false, z,
  itemStyle: {color, opacity: 1}, emphasis: {disabled: true}, silent: true, animation: false
});
const axisCommon = {
  type: 'log', logBase: 10, min: 1e-3, max: 1e6, interval: 1, splitNumber: 9,
  axisLine: {show: true, onZero: false, lineStyle: {color: '#000', width: 2.5}},
  axisTick: {show: true, length: 7, lineStyle: {color: '#000', width: 2.5}},
  minorTick: {show: false}, minorSplitLine: {show: false},
  splitLine: {show: true, lineStyle: {color: '#8a8a8a', width: 2}}
};
const chart = echarts.init(document.getElementById('c'), null, {renderer: 'canvas'});
chart.setOption({
  animation: false,
  backgroundColor: '#fff',
  grid: {left: 211, top: 39, width: 1179, height: 1120, containLabel: false, outerBoundsMode: 'none'},
  xAxis: Object.assign({}, axisCommon, {
    name: xTitle, nameLocation: 'middle', nameGap: 152,
    nameTextStyle: {fontFamily: SANS, fontSize: 64, color: '#000', padding: [0, 0, 0, 66]},
    axisLabel: {
      margin: 70, verticalAlign: 'middle', showMinLabel: true, showMaxLabel: true, hideOverlap: false, interval: 0,
      formatter: xLabel,
      rich: {
        p: richBase,
        q: Object.assign({}, richBase, {padding: [0, 0, 0, 14]}),
        ex: Object.assign({}, richBase, {padding: [0, 0, 0, 20]}),
        s: Object.assign({}, richBase, {padding: [0, 0, 40, 0]})
      }
    }
  }),
  yAxis: Object.assign({}, axisCommon, {
    name: yTitle, nameLocation: 'middle', nameGap: 138,
    nameTextStyle: {fontFamily: SANS, fontSize: 61.5, color: '#000', padding: [0, 52, 0, 0]},
    axisLabel: {
      margin: 24, align: 'right', showMinLabel: true, showMaxLabel: true, hideOverlap: false, interval: 0,
      formatter: yLabel,
      rich: {
        py: Object.assign({}, richBase, {padding: [8, 0, 0, 0]}),
        ey: Object.assign({}, richBase, {padding: [26, 0, 0, 0]}),
        t: Object.assign({}, richBase, {padding: [0, 0, 16, 0]})
      }
    }
  }),
  legend: {
    orient: 'vertical', left: 1041, top: 924, padding: [11, 24, 16, 15],
    itemWidth: 16, itemHeight: 16, itemGap: 6,
    backgroundColor: '#fff', borderColor: '#000', borderWidth: 2.5,
    textStyle: {fontFamily: SANS, fontSize: 33.5, color: '#000', padding: [0, 0, 0, 10]},
    selectedMode: false,
    data: [
      {name: 'msp-3', icon: 'rect', textStyle: {fontStyle: 'italic'}},
      {name: 'sperm/MSP', icon: 'circle'},
      {name: 'sperm/non-MSP', icon: 'circle'},
      {name: 'MSP/non-sperm', icon: 'circle'},
      {name: 'LC genes', icon: 'circle'}
    ]
  },
  graphic: {elements: [
    cover(199, 1076, 26, 44), cover(238, 1148, 68, 22),
    lineSeg(191, 1114, 211, 1084), lineSeg(207, 1116, 227, 1086),
    lineSeg(255, 1178, 273, 1146), lineSeg(272, 1178, 290, 1146)
  ]},
  series: [
    dots('LC genes', lcAll, '#8FC3D5', 11.5, null, 10),
    dots('MSP/non-sperm', msgAll, '#660066', 13.5, null, 11),
    dots('sperm/non-MSP', greenAll, '#008000', 13.5, null, 12),
    dots('sperm/MSP', orangeAll, '#FF6600', 13.5, null, 13),
    dots('msp-3', redAll, '#FF0000', 15, 'rect', 14)
  ]
});
</script></body></html>
